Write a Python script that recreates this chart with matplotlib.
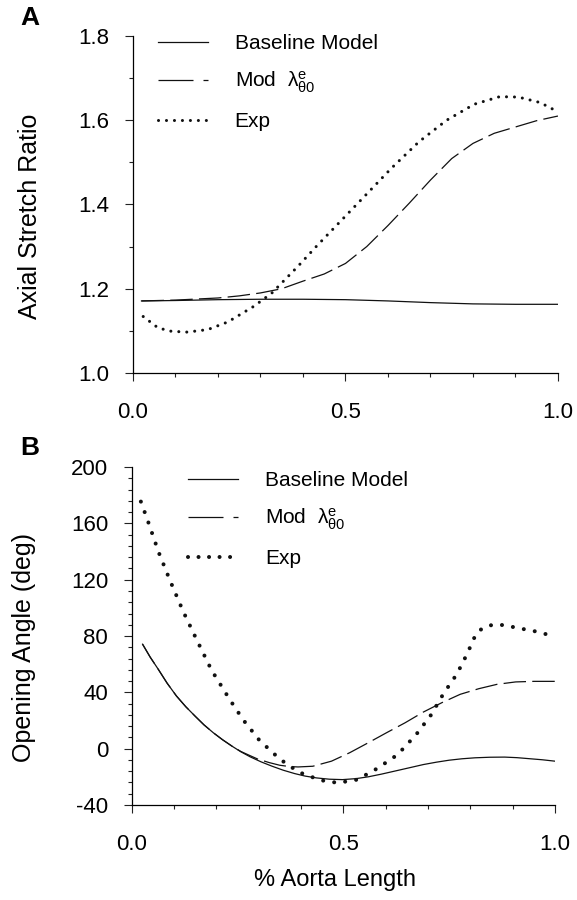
import matplotlib
matplotlib.use("Agg")
import matplotlib.pyplot as plt
from matplotlib.ticker import MultipleLocator, FormatStrFormatter
from matplotlib.lines import Line2D

plt.rcParams['font.family'] = ['Liberation Sans', 'DejaVu Sans']
plt.rcParams['axes.unicode_minus'] = False
plt.rcParams['mathtext.fontset'] = 'dejavusans'

# Panel A: axial stretch ratio
a_base_x = [0.02, 0.1, 0.2, 0.3, 0.4, 0.5, 0.6, 0.7, 0.8, 0.9, 1.0]
a_base_y = [1.171, 1.172, 1.174, 1.175, 1.175, 1.174, 1.171, 1.167, 1.164,
            1.163, 1.163]

a_mod_x = [0.02, 0.1, 0.2, 0.25, 0.3, 0.35, 0.4, 0.45, 0.5, 0.55, 0.6,
           0.65, 0.7, 0.75, 0.8, 0.85, 0.9, 0.95, 1.0]
a_mod_y = [1.171, 1.173, 1.178, 1.183, 1.19, 1.20, 1.218, 1.235, 1.26, 1.30,
           1.35, 1.403, 1.458, 1.509, 1.545, 1.569, 1.584, 1.599, 1.61]

a_exp_x = [0.024, 0.059, 0.09, 0.128, 0.176, 0.223, 0.284, 0.327, 0.388,
           0.431, 0.491, 0.552, 0.608, 0.673, 0.738, 0.803, 0.863, 0.907,
           0.958, 1.0]
a_exp_y = [1.134, 1.107, 1.099, 1.097, 1.103, 1.121, 1.158, 1.19, 1.253,
           1.30, 1.363, 1.427, 1.486, 1.549, 1.60, 1.638, 1.656, 1.655,
           1.642, 1.62]

# Panel B: opening angle
b_base_x = [0.026, 0.044, 0.063, 0.084, 0.106, 0.128, 0.15, 0.171, 0.193,
            0.215, 0.237, 0.258, 0.28, 0.306, 0.332, 0.358, 0.385, 0.41,
            0.437, 0.467, 0.498, 0.53, 0.559, 0.59, 0.628, 0.66, 0.689,
            0.72, 0.75, 0.78, 0.811, 0.846, 0.881, 0.91, 0.942, 0.97, 1.0]
b_base_y = [74.2, 65.0, 56.4, 46.5, 37.4, 29.8, 23.1, 16.9, 11.3, 6.3, 1.8,
            -2.2, -5.8, -9.4, -12.5, -15.3, -17.7, -19.5, -20.8, -21.7,
            -22.0, -21.3, -20.0, -18.1, -15.5, -13.3, -11.3, -9.6, -8.2,
            -7.2, -6.5, -6.1, -6.0, -6.4, -7.2, -7.9, -8.9]

b_mod_x = [0.026, 0.044, 0.063, 0.084, 0.106, 0.128, 0.15, 0.171, 0.193,
           0.215, 0.237, 0.258, 0.28, 0.298, 0.325, 0.35, 0.373, 0.393,
           0.428, 0.472, 0.515, 0.559, 0.602, 0.646, 0.689, 0.733, 0.776,
           0.82, 0.863, 0.907, 0.95, 1.0]
b_mod_y = [74.2, 65.0, 56.4, 46.5, 37.4, 29.8, 23.1, 16.9, 11.3, 6.3, 1.8,
           -2.0, -5.0, -7.4, -9.9, -11.8, -12.7, -13.0, -12.5, -8.9, -2.9,
           4.2, 11.3, 18.4, 26.0, 32.7, 38.6, 42.6, 45.7, 47.4, 47.8, 47.8]

b_exp_x = [0.022, 0.039, 0.064, 0.091, 0.122, 0.155, 0.189, 0.232, 0.264,
           0.302, 0.35, 0.395, 0.446, 0.487, 0.533, 0.58, 0.628, 0.672,
           0.707, 0.737, 0.768, 0.792, 0.813, 0.83, 0.855, 0.881, 0.907,
           0.959, 1.0]
b_exp_y = [175.5, 161.3, 139.5, 119.3, 97.4, 76.6, 55.7, 34.8, 20.3, 5.9,
           -7.4, -16.7, -22.4, -24.3, -22.0, -14.1, -4.3, 10.0, 23.9, 39.3,
           52.9, 67.1, 81.3, 86.0, 88.2, 87.7, 86.0, 83.0, 79.5]

labels = ["Baseline Model", r"Mod  $\mathregular{\lambda^{e}_{\theta0}}$",
          "Exp"]

fig = plt.figure(figsize=(5.77, 9.0), dpi=100)
ax1 = fig.add_axes([0.2305, 0.5856, 0.7365, 0.3744])
ax2 = fig.add_axes([0.228, 0.1056, 0.734, 0.3754])

ink = "#111111"
dash = (0, (18, 5))


def style(ax):
    for s in ("top", "right"):
        ax.spines[s].set_visible(False)
    for s in ("left", "bottom"):
        ax.spines[s].set_linewidth(0.9)
    ax.set_xlim(0, 1.0)
    ax.xaxis.set_major_locator(MultipleLocator(0.5))
    ax.xaxis.set_minor_locator(MultipleLocator(0.1))
    ax.xaxis.set_major_formatter(FormatStrFormatter("%.1f"))
    ax.tick_params(which="major", direction="out", length=5.8, width=0.8,
                   labelsize=16, color="#222222")
    ax.tick_params(which="minor", direction="out", length=3.0, width=0.8,
                   color="#222222")
    ax.tick_params(axis="x", which="major", pad=15)
    ax.tick_params(axis="y", which="major", pad=11)


# top panel
ax1.plot(a_base_x, a_base_y, color=ink, lw=0.9)
ax1.plot(a_mod_x, a_mod_y, color=ink, lw=0.9, linestyle=dash)
ax1.plot(a_exp_x, a_exp_y, color=ink, lw=2.2,
         linestyle=(0, (0.01, 2.6)), dash_capstyle="round")
style(ax1)
ax1.set_ylim(1.0, 1.8)
ax1.yaxis.set_major_locator(MultipleLocator(0.2))
ax1.yaxis.set_minor_locator(MultipleLocator(0.1))
ax1.yaxis.set_major_formatter(FormatStrFormatter("%.1f"))
ax1.set_ylabel("Axial Stretch Ratio", fontsize=18)
ax1.yaxis.set_label_coords(-0.214, 0.466)

# bottom panel
ax2.plot(b_base_x, b_base_y, color=ink, lw=0.9)
ax2.plot(b_mod_x, b_mod_y, color=ink, lw=0.9, linestyle=dash)
ax2.plot(b_exp_x, b_exp_y, color=ink, lw=2.9,
         linestyle=(0, (0.01, 2.75)), dash_capstyle="round")
style(ax2)
ax2.set_ylim(-40, 200)
ax2.yaxis.set_major_locator(MultipleLocator(40))
ax2.yaxis.set_minor_locator(MultipleLocator(8))
ax2.set_ylabel("Opening Angle (deg)", fontsize=18)
ax2.yaxis.set_label_coords(-0.2255, 0.465)
ax2.set_xlabel("% Aorta Length", fontsize=17)
ax2.xaxis.set_label_coords(0.48, -0.189)


def legend(ax, anchor, dot_lw):
    handles = [
        Line2D([], [], color=ink, lw=0.9),
        Line2D([], [], color=ink, lw=0.9, linestyle=(0, (28, 8))),
        Line2D([], [], color=ink, lw=dot_lw,
               linestyle=(0, (0.01, 2.6)), dash_capstyle="round"),
    ]
    ax.legend(handles, labels, loc="upper left", bbox_to_anchor=anchor,
              frameon=False, fontsize=15, handlelength=2.4,
              handletextpad=1.3, labelspacing=0.8, borderpad=0,
              borderaxespad=0)


legend(ax1, (0.058, 1.006), 2.2)
legend(ax2, (0.133, 0.988), 2.9)

fig.text(30 / 577, 1 - 18 / 900, "A", fontsize=19, fontweight="bold",
         ha="center", va="center")
fig.text(30 / 577, 1 - 448 / 900, "B", fontsize=19, fontweight="bold",
         ha="center", va="center")

fig.savefig("out.png", dpi=100)
